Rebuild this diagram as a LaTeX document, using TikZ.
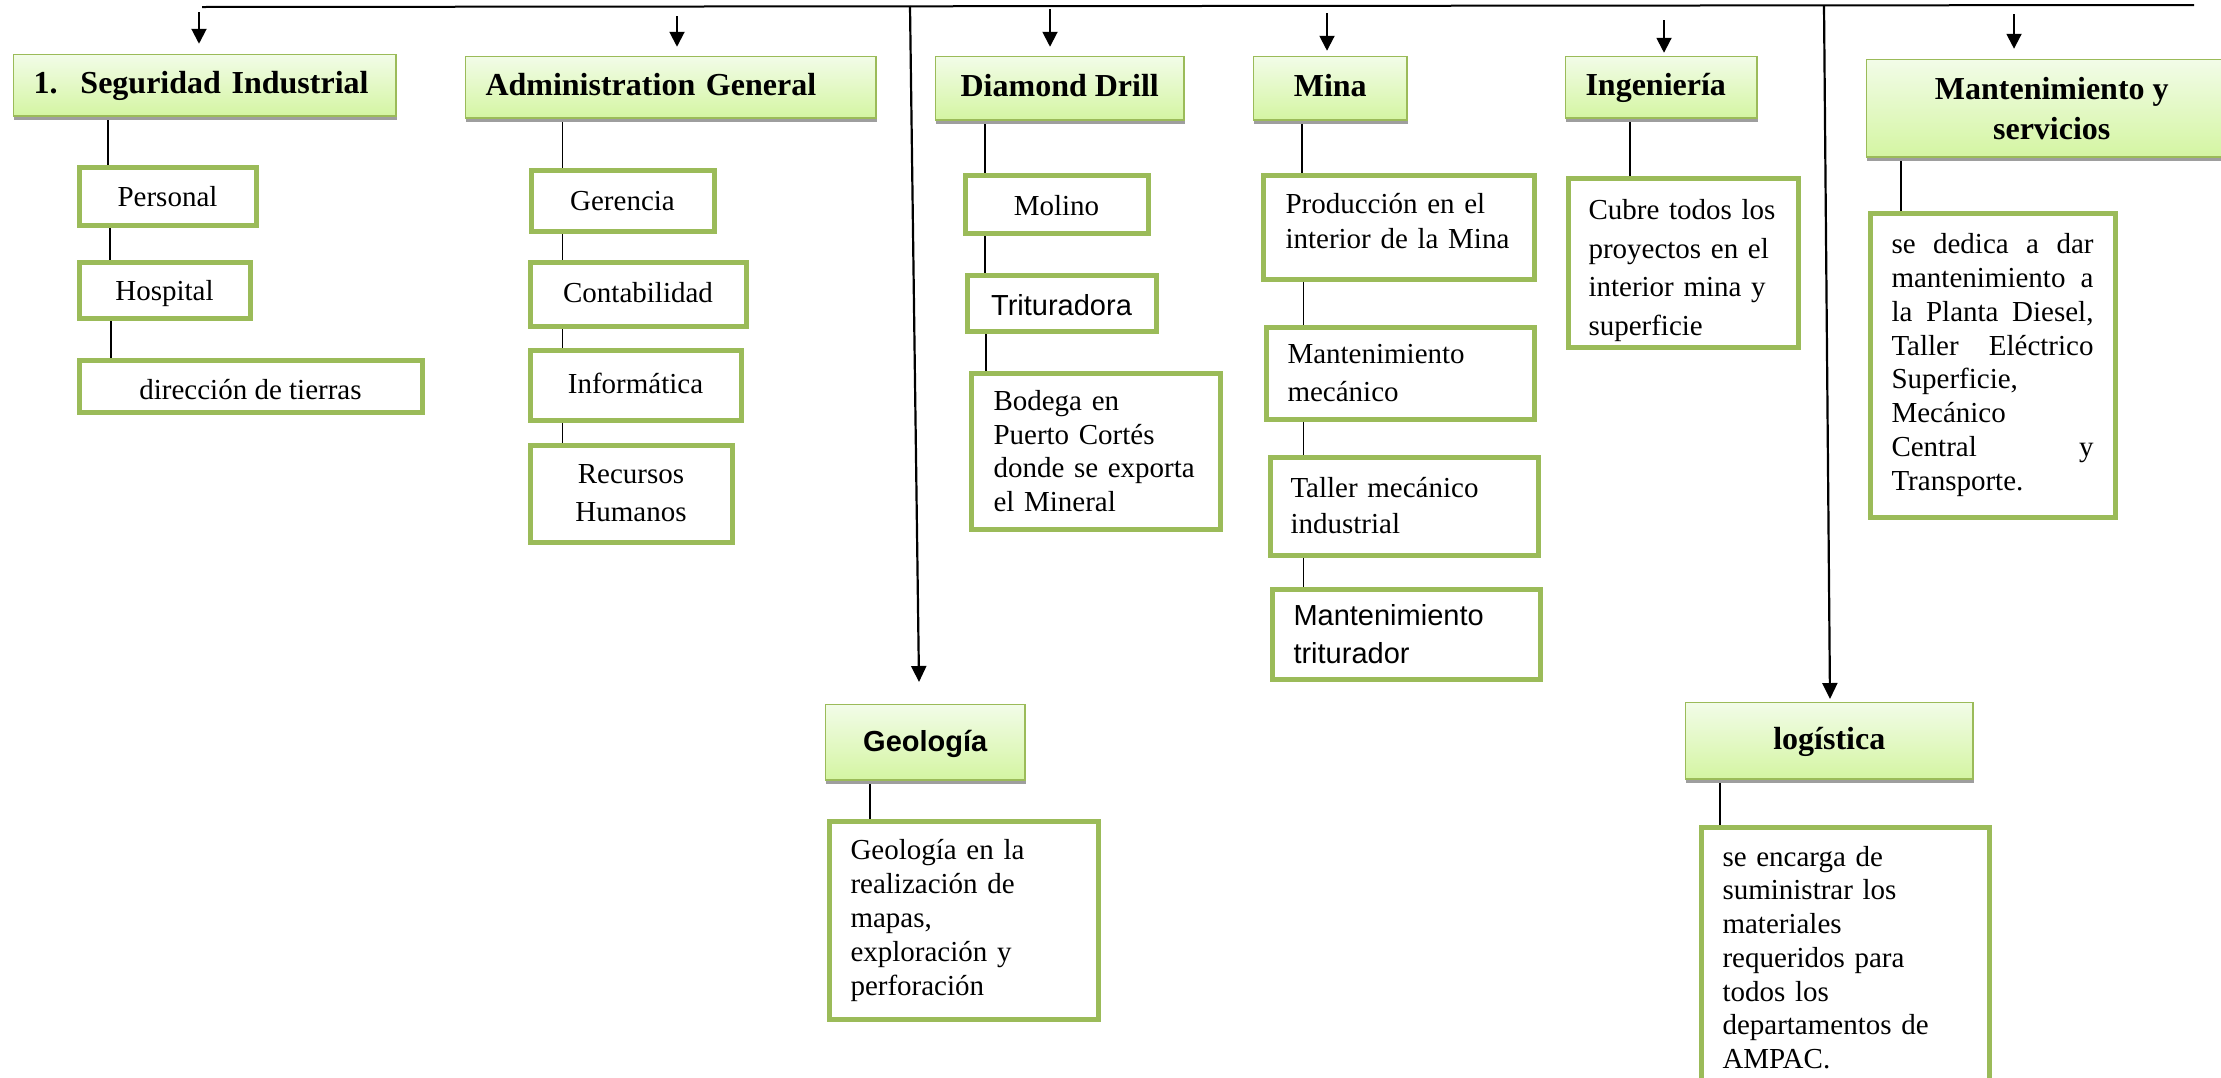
\documentclass[tikz,border=0pt]{standalone}
\usepackage{fontspec}
\setmainfont{Liberation Serif}
\newfontfamily\arialf{Liberation Sans}
\usetikzlibrary{arrows.meta,shadows,backgrounds}
\definecolor{gborder}{HTML}{9BBB59}
\definecolor{gtop}{HTML}{F2FCE8}
\definecolor{gbot}{HTML}{D4F5A2}
\newcommand\myup[1]{\par\vspace{#1}\hrule height 0pt}
\newcommand\mydown[1]{\hrule height 0pt\vspace{#1}}
\newcommand\jline[1]{\leavevmode\hbox to 202pt{#1}}
\begin{document}
\begin{tikzpicture}[x=1pt,y=-1pt,
  titlebox/.style={draw=gborder, line width=1.5pt, top color=gtop, bottom color=gbot,
    general shadow={fill=black!38, shadow yshift=-3.5pt, shadow xshift=0.5pt},
    anchor=north west, inner sep=0pt, font=\fontsize{32}{39.6}\selectfont\bfseries},
  subbox/.style={draw=gborder, line width=5pt, fill=white, anchor=north west,
    inner sep=0pt, font=\fontsize{29}{34}\selectfont},
  sl/.style={text height=#1, text depth=0pt},
  conn/.style={line width=1.6pt, black},
  arr/.style={line width=2pt, black, -{Triangle[width=15pt,length=15pt]}},
  longarr/.style={line width=2.2pt, black, -{Triangle[width=15pt,length=16pt]}},
]
\useasboundingbox (0,0) rectangle (2221,1077);
\clip (0,0) rectangle (2221,1077);

% ---------- title boxes ----------
\node[titlebox, minimum width=382.5pt, minimum height=61.5pt, inner xsep=20pt,
  text width=342.5pt, align=left, text height=24pt, text depth=7pt] (seg) at (12.75,53.75) {1.\hspace{23pt}Seguridad Industrial};
\node[titlebox, minimum width=410.5pt, minimum height=61.5pt, inner xsep=20pt,
  text width=370.5pt, align=left, text height=24pt, text depth=7pt] (adm) at (464.75,55.75) {Administration General};
\node[titlebox, minimum width=248.5pt, minimum height=63.5pt, text height=24pt, text depth=7pt] (dia) at (934.75,55.75) {Diamond Drill};
\node[titlebox, minimum width=153.5pt, minimum height=63.5pt, text height=24pt, text depth=7pt] (mina) at (1252.75,55.75) {Mina};
\node[titlebox, minimum width=191.5pt, minimum height=61.5pt, inner xsep=20pt,
  text width=151.5pt, align=left, text height=24pt, text depth=7pt] (ing) at (1564.75,55.75) {Ingeniería};
\node[titlebox, minimum width=370.5pt, minimum height=97.5pt, align=center] (mant) at (1865.75,58.75) {Mantenimiento y\\servicios};
\node[titlebox, minimum width=199.5pt, minimum height=75.5pt, text height=26pt, text depth=7pt,
  font=\fontsize{29}{34}\selectfont\arialf\bfseries] (geo) at (824.75,703.75) {Geología};
\node[titlebox, minimum width=287.5pt, minimum height=76.5pt, text height=25pt, text depth=7pt] (log) at (1684.75,701.75) {logística};

% ---------- sub boxes ----------
\node[subbox, minimum width=177pt, minimum height=58pt, sl=21pt] (per) at (76.5,164.5) {Personal};
\node[subbox, minimum width=171pt, minimum height=56pt, sl=21pt] (hos) at (76.5,259.5) {Hospital};
\node[subbox, minimum width=343pt, minimum height=52pt, sl=27pt] (dir) at (76.5,357.5) {dirección de tierras};

\node[subbox, minimum width=183pt, minimum height=61pt, sl=20pt] (ger) at (528.5,167.5) {Gerencia};
\node[subbox, minimum width=216pt, minimum height=64pt, sl=17pt] (con) at (527.5,259.5) {Contabilidad};
\node[subbox, minimum width=211pt, minimum height=70pt, sl=17pt] (inf) at (527.5,347.5) {Informática};
\node[subbox, minimum width=202pt, minimum height=97pt, align=center,
  font=\fontsize{29}{38}\selectfont] (rec) at (527.5,442.5) {Recursos\\Humanos};

\node[subbox, minimum width=183pt, minimum height=58pt, sl=23pt] (mol) at (962.5,172.5) {Molino};
\node[subbox, minimum width=189pt, minimum height=56pt, sl=24pt, font=\fontsize{29}{34}\selectfont\arialf] (tri) at (964.5,272.5) {Trituradora};
\node[subbox, minimum width=249pt, minimum height=156pt, inner xsep=22.5pt,
  text width=204pt, align=left, font=\fontsize{29}{33.5}\selectfont] (bod) at (968.5,370.5)
  {Bodega en\\Puerto Cortés\\donde se exporta\\el Mineral};

\node[subbox, minimum width=271pt, minimum height=104pt, inner xsep=22.5pt,
  text width=226pt, align=left, font=\fontsize{29}{35}\selectfont] (pro) at (1260.5,172.5)
  {Producción en el\\interior de la Mina\myup{12pt}};
\node[subbox, minimum width=268pt, minimum height=92pt, inner xsep=21.5pt,
  text width=225pt, align=left, font=\fontsize{29}{38}\selectfont] (mme) at (1263.5,324.5)
  {Mantenimiento\\mecánico};
\node[subbox, minimum width=268pt, minimum height=98pt, inner xsep=20.5pt,
  text width=227pt, align=left, font=\fontsize{29}{36}\selectfont] (tal) at (1267.5,454.5)
  {Taller mecánico\\industrial};
\node[subbox, minimum width=268pt, minimum height=90pt, inner xsep=21.5pt,
  text width=225pt, align=left, font=\fontsize{29}{38}\selectfont\arialf] (mtr) at (1269.5,586.5)
  {Mantenimiento\\triturador};

\node[subbox, minimum width=230pt, minimum height=169pt, inner xsep=20.5pt,
  text width=189pt, align=left, font=\fontsize{29}{38.5}\selectfont] (cub) at (1565.5,175.5)
  {\mydown{16pt}Cubre todos los\\proyectos en el\\interior mina y\\superficie};

\node[subbox, minimum width=245pt, minimum height=304pt, inner xsep=21.5pt,
  text width=202pt, align=left, font=\fontsize{29}{33.8}\selectfont] (ded) at (1867.5,210.5)
  {\jline{se\hfill dedica\hfill a\hfill dar}\\
   \jline{mantenimiento\hfill a}\\
   \jline{la\hfill Planta\hfill Diesel,}\\
   \jline{Taller\hfill Eléctrico}\\
   Superficie,\\
   Mecánico\\
   \jline{Central\hfill y}\\
   Transporte.};

\node[subbox, minimum width=269pt, minimum height=198pt, inner xsep=21.5pt,
  text width=226pt, align=left, font=\fontsize{29}{34}\selectfont] (get) at (826.5,818.5)
  {Geología en la\\realización de\\mapas,\\exploración y\\perforación};

\node[subbox, minimum width=288pt, minimum height=261pt, inner xsep=21.5pt,
  text width=245pt, align=left, font=\fontsize{29}{33.7}\selectfont] (enc) at (1698.5,824.5)
  {se encarga de\\suministrar los\\materiales\\requeridos para\\todos los\\departamentos de\\AMPAC.};

% ---------- coordinates ----------
\coordinate (tl) at (202,7);
\coordinate (tr) at (2194,5);
\coordinate (v1s) at (910,6);
\coordinate (v1e) at (919,682);
\coordinate (v2s) at (1824,6);
\coordinate (v2e) at (1830,699);
\coordinate (a1) at (199,12);
\coordinate (a2) at (677,16);
\coordinate (a3) at (1050,9);
\coordinate (a4) at (1327,13);
\coordinate (a5) at (1664,20);
\coordinate (a6) at (2014,14);
\coordinate (c1) at (108,0);
\coordinate (c1b) at (110,0);
\coordinate (c1c) at (111,0);
\coordinate (c2) at (562.5,0);
\coordinate (c3) at (985,0);
\coordinate (c3b) at (986,0);
\coordinate (c4) at (1302,0);
\coordinate (c4b) at (1303.5,0);
\coordinate (c5) at (1630,0);
\coordinate (c6) at (1901,0);
\coordinate (c7) at (870,0);
\coordinate (c8) at (1720,0);

% ---------- lines ----------
\begin{scope}[on background layer]
  \fill[white] (0,0) rectangle (2221,1077);
  \draw[conn] (seg.south -| c1) -- (per.north -| c1);
  \draw[conn] (per.south -| c1b) -- (hos.north -| c1b);
  \draw[conn] (hos.south -| c1c) -- (dir.north -| c1c);
  \draw[conn] (adm.south -| c2) -- (ger.north -| c2);
  \draw[conn] (ger.south -| c2) -- (con.north -| c2);
  \draw[conn] (con.south -| c2) -- (inf.north -| c2);
  \draw[conn] (inf.south -| c2) -- (rec.north -| c2);
  \draw[conn] (dia.south -| c3) -- (mol.north -| c3);
  \draw[conn] (mol.south -| c3) -- (tri.north -| c3);
  \draw[conn] (tri.south -| c3b) -- (bod.north -| c3b);
  \draw[conn] (mina.south -| c4) -- (pro.north -| c4);
  \draw[conn] (pro.south -| c4b) -- (mme.north -| c4b);
  \draw[conn] (mme.south -| c4b) -- (tal.north -| c4b);
  \draw[conn] (tal.south -| c4b) -- (mtr.north -| c4b);
  \draw[conn] (ing.south -| c5) -- (cub.north -| c5);
  \draw[conn] (mant.south -| c6) -- (ded.north -| c6);
  \draw[conn] (geo.south -| c7) -- (get.north -| c7);
  \draw[conn] (log.south -| c8) -- (enc.north -| c8);
\end{scope}

\draw[line width=2pt] (tl) -- (tr);
\draw[longarr] (v1s) -- (v1e);
\draw[longarr] (v2s) -- (v2e);
\draw[arr, shorten >=10pt] (a1) -- (a1 |- seg.north);
\draw[arr, shorten >=9pt] (a2) -- (a2 |- adm.north);
\draw[arr, shorten >=9pt] (a3) -- (a3 |- dia.north);
\draw[arr, shorten >=5pt] (a4) -- (a4 |- mina.north);
\draw[arr, shorten >=3pt] (a5) -- (a5 |- ing.north);
\draw[arr, shorten >=10pt] (a6) -- (a6 |- mant.north);
\end{tikzpicture}
\end{document}
